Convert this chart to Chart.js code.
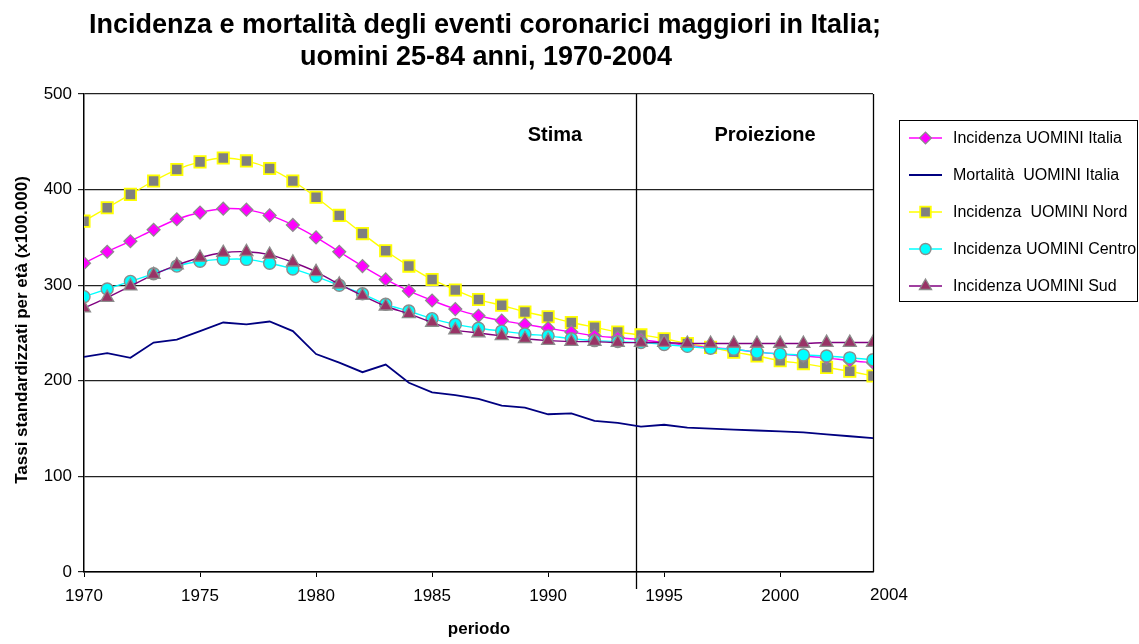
<!DOCTYPE html>
<html>
<head>
<meta charset="utf-8">
<script src="https://cdn.jsdelivr.net/npm/chart.js@4.4.1/dist/chart.umd.min.js"></script>
<style>
  body { margin: 0; background: #fff; }
  #wrap { width: 1139px; height: 644px; }
</style>
</head>
<body>
<div id="wrap"><canvas id="myChart" width="1139" height="644"></canvas></div>
<script>
// data
const years = [1970,1971,1972,1973,1974,1975,1976,1977,1978,1979,1980,1981,1982,1983,1984,1985,1986,1987,
  1988,1989,1990,1991,1992,1993,1994,1995,1996,1997,1998,1999,2000,2001,2002,2003,2004];
const italia = [323,335,346,358,369,376,380,379,373,363,350,335,320,306,294,284,275,268,
  263,259,255,251,247,245,243,240,237,235,233,230,228,226,224,221,219];
const mortalita = [225,229,224,240,243,252,261,259,262,252,228,219,209,217,198,188,185,181,
  174,172,165,166,158,156,152,154,151,150,149,148,147,146,144,142,140];
const nord = [367,381,395,409,421,429,433,430,422,409,392,373,354,336,320,306,295,285,
  279,272,267,261,256,251,248,244,239,235,230,226,221,218,214,210,205];
const centro = [288,296,304,312,320,325,327,327,323,317,309,300,291,280,273,265,259,255,
  252,249,247,244,242,241,240,238,236,234,233,230,228,227,226,224,222];
const sud = [276,287,299,311,321,329,334,335,332,324,314,301,289,278,270,261,253,250,
  247,244,242,241,241,240,240,240,239,239,239,239,239,239,240,240,240];
const seriesNames = ["Incidenza UOMINI Italia", "Mortalità  UOMINI Italia", "Incidenza  UOMINI Nord",
  "Incidenza UOMINI Centro", "Incidenza UOMINI Sud"];
const yTicks = [0, 100, 200, 300, 400, 500];
const cutYear = 1993.8;

const FONT = "'Liberation Sans', Arial, sans-serif";

function pts(arr) {
  return arr.map((v, i) => ({ x: years[i], y: v }));
}

var datasets = [
  {
    label: seriesNames[0], data: pts(italia), order: 3,
    borderColor: "#FF00FF", borderWidth: 1.4, tension: 0.25,
    pointStyle: "rectRot", pointRadius: 6.5, pointBackgroundColor: "#FF00FF",
    pointBorderColor: "#8c8c8c", pointBorderWidth: 1.2
  },
  {
    label: seriesNames[1], data: pts(mortalita), order: 5,
    borderColor: "#000080", borderWidth: 1.8, tension: 0,
    pointRadius: 0
  },
  {
    label: seriesNames[2], data: pts(nord), order: 4,
    borderColor: "#FFFF00", borderWidth: 1.4, tension: 0.25,
    pointStyle: "rect", pointRadius: 8, pointBackgroundColor: "#808080",
    pointBorderColor: "#FFFF00", pointBorderWidth: 1.8
  },
  {
    label: seriesNames[3], data: pts(centro), order: 2,
    borderColor: "#00FFFF", borderWidth: 1.4, tension: 0.25,
    pointStyle: "circle", pointRadius: 6, pointBackgroundColor: "#00FFFF",
    pointBorderColor: "#8c8c8c", pointBorderWidth: 1.4
  },
  {
    label: seriesNames[4], data: pts(sud), order: 1,
    borderColor: "#800080", borderWidth: 1.4, tension: 0.25,
    pointStyle: "triangle", pointRadius: 7.5, pointBackgroundColor: "#993366",
    pointBorderColor: "#8c8c8c", pointBorderWidth: 1.3
  }
];

// extra drawing: titles, split line, annotations, legend
const decor = {
  id: "decor",
  beforeDatasetsDraw(chart) {
    const ctx = chart.ctx;
    const xs = chart.scales.x;
    const a = chart.chartArea;
    ctx.save();
    ctx.strokeStyle = "#000";
    ctx.lineWidth = 1.3;
    let xc = Math.round(xs.getPixelForValue(cutYear)) + 0.5;
    ctx.beginPath();
    ctx.moveTo(xc, a.top);
    ctx.lineTo(xc, a.bottom + 17);
    ctx.stroke();
    let xr = Math.round(xs.getPixelForValue(2004)) + 0.5;
    ctx.beginPath();
    ctx.moveTo(xr, a.top);
    ctx.lineTo(xr, a.bottom);
    ctx.stroke();
    ctx.restore();
  },
  afterDraw(chart) {
    const ctx = chart.ctx;
    ctx.save();
    ctx.fillStyle = "#000";
    ctx.textAlign = "center";
    ctx.textBaseline = "middle";
    ctx.font = "bold 27px " + FONT;
    ctx.fillText("Incidenza e mortalità degli eventi coronarici maggiori in Italia;", 485, 26);
    ctx.fillText("uomini 25-84 anni, 1970-2004", 486, 58);

    ctx.font = "bold 20px " + FONT;
    ctx.fillText("Stima", 555, 135);
    ctx.fillText("Proiezione", 765, 135);

    ctx.font = "bold 17px " + FONT;
    ctx.fillText("periodo", 479, 629);
    ctx.save();
    ctx.translate(22, 330);
    ctx.rotate(-Math.PI / 2);
    ctx.fillText("Tassi standardizzati per età (x100.000)", 0, 0);
    ctx.restore();

    ctx.font = "17px " + FONT;
    ctx.fillText("2004", 889, 595);

    // legend
    ctx.strokeStyle = "#000";
    ctx.lineWidth = 1;
    ctx.strokeRect(899.5, 120.5, 238, 181);
    const rows = [138, 175, 212, 249, 286];
    ctx.font = "16px " + FONT;
    ctx.textAlign = "left";
    chart.data.datasets.forEach((ds, i) => {
      const y = rows[i];
      ctx.strokeStyle = ds.borderColor;
      ctx.lineWidth = ds.borderWidth;
      ctx.beginPath();
      ctx.moveTo(909, y);
      ctx.lineTo(942, y);
      ctx.stroke();
      if (ds.pointRadius > 0) {
        ctx.fillStyle = ds.pointBackgroundColor;
        ctx.strokeStyle = ds.pointBorderColor;
        ctx.lineWidth = ds.pointBorderWidth;
        Chart.helpers.drawPoint(ctx, {
          pointStyle: ds.pointStyle, radius: ds.pointRadius - 0.5, rotation: 0,
          borderWidth: ds.pointBorderWidth
        }, 925.5, y);
      }
      ctx.fillStyle = "#000";
      ctx.fillText(ds.label, 953, y + 1);
    });
    ctx.restore();
  }
};

var config = {
  type: "line",
  data: { datasets: datasets },
  options: {
    responsive: false,
    animation: false,
    layout: { padding: { top: 94, right: 266, left: 0, bottom: 0 } },
    plugins: {
      legend: { display: false },
      title: { display: false },
      tooltip: { enabled: false }
    },
    scales: {
      x: {
        type: "linear",
        min: 1970,
        max: 2004,
        afterFit: (scale) => { scale.height = 72; },
        ticks: {
          stepSize: 5,
          includeBounds: false,
          color: "#000",
          font: { family: FONT, size: 17 },
          padding: 9,
          maxRotation: 0,
          callback: (v) => String(v)
        },
        grid: {
          drawOnChartArea: false,
          drawTicks: true,
          tickLength: 5,
          color: "#000"
        },
        border: { color: "#000", width: 1.5 }
      },
      y: {
        min: 0,
        max: 500,
        afterFit: (scale) => { scale.width = 84; },
        afterBuildTicks: (scale) => { scale.ticks = yTicks.map(v => ({ value: v })); },
        ticks: {
          color: "#000",
          font: { family: FONT, size: 17 },
          padding: 6
        },
        grid: {
          color: "#222",
          lineWidth: 1.2,
          tickLength: 6
        },
        border: { color: "#000", width: 1.5 }
      }
    }
  },
  plugins: [decor]
};

var ctx = document.getElementById("myChart").getContext("2d");
const myChart = new Chart(ctx, config);
</script>
</body>
</html>
